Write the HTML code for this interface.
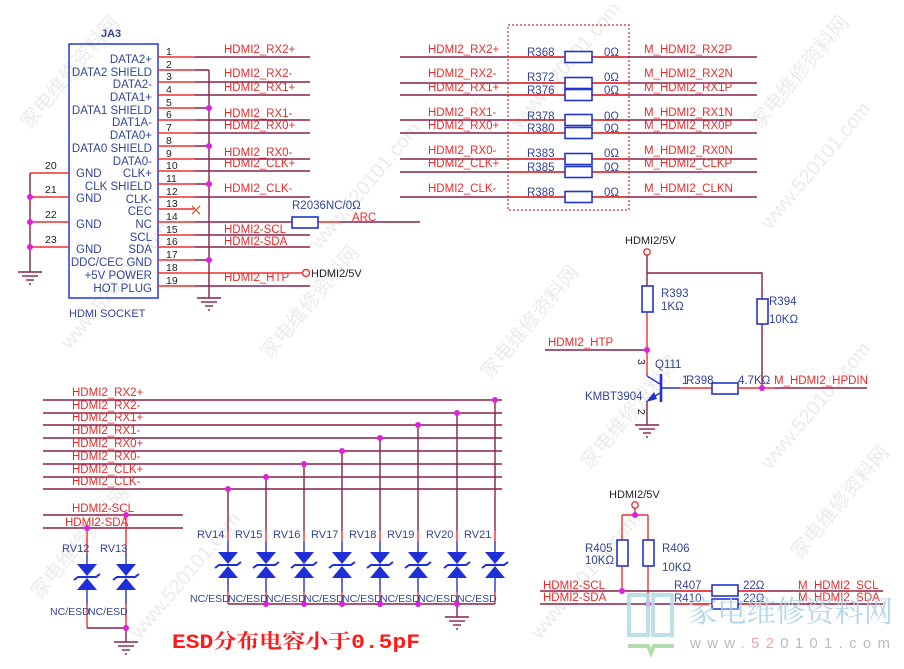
<!DOCTYPE html>
<html><head><meta charset="utf-8"><style>
html,body{margin:0;padding:0;background:#fff;}
svg{display:block;font-family:"Liberation Sans","Noto Sans CJK SC",sans-serif;}
.m{stroke:#8a2048;stroke-width:1.4;fill:none}
.r{stroke:#ee3030;stroke-width:1.4;fill:none}
.b{stroke:#2233cc;stroke-width:1.4;fill:none}
.res{fill:#fff;stroke:#2233cc;stroke-width:1.6}
.nl{fill:#f02828;font-size:11.5px}
.cl{fill:#34449a;font-size:11.5px}
.pn{fill:#222;font-size:10.5px}
.dk{fill:#222;font-size:11px}
.dot{fill:#e020e0}
.wm{fill:#ebebeb;font-size:20px}
</style></head><body>
<svg width="904" height="669" viewBox="0 0 904 669" xmlns="http://www.w3.org/2000/svg">
<defs>
<g id="tvs"><polygon points="-10,0 10,0 0,12" fill="#1f2fd8"/><polygon points="-10,26 10,26 0,14" fill="#1f2fd8"/><polyline points="-13,16 -9,13 9,13 13,10" stroke="#1f2fd8" stroke-width="2" fill="none"/></g>
<g id="gnd"><line x1="-12" y1="0" x2="12" y2="0" stroke="#8a2048" stroke-width="1.4"/><line x1="-8" y1="4" x2="8" y2="4" stroke="#8a2048" stroke-width="1.4"/><line x1="-4" y1="8" x2="4" y2="8" stroke="#8a2048" stroke-width="1.4"/><line x1="-1" y1="12" x2="1" y2="12" stroke="#8a2048" stroke-width="1.4"/></g>
</defs>

<!-- watermarks -->
<g class="wm">
<text transform="translate(30,130) rotate(-50)">家电维修资料网</text>
<text transform="translate(70,350) rotate(-50)">www.520101.com</text>
<text transform="translate(270,360) rotate(-50)">家电维修资料网</text>
<text transform="translate(320,250) rotate(-50)">www.520101.com</text>
<text transform="translate(520,130) rotate(-50)">www.520101.com</text>
<text transform="translate(490,380) rotate(-50)">家电维修资料网</text>
<text transform="translate(760,130) rotate(-50)">家电维修资料网</text>
<text transform="translate(770,230) rotate(-50)">www.520101.com</text>
<text transform="translate(40,600) rotate(-50)">家电维修资料网</text>
<text transform="translate(140,640) rotate(-50)">www.520101.com</text>
<text transform="translate(540,640) rotate(-50)">www.520101.com</text>
<text transform="translate(770,470) rotate(-50)">www.520101.com</text>
<text transform="translate(590,470) rotate(-50)">家电维修资料网</text>
<text transform="translate(800,560) rotate(-50)">家电维修资料网</text>
</g>

<!-- ============ CONNECTOR ============ -->
<text x="101" y="37" class="cl" style="font-weight:bold;font-size:11px">JA3</text>
<rect x="69" y="44" width="89" height="254" fill="none" stroke="#3344dd" stroke-width="1.6"/>
<text x="69" y="317" class="cl" style="font-size:11px">HDMI SOCKET</text>

<g class="cl" text-anchor="end">
<text x="152" y="63">DATA2+</text>
<text x="152" y="76">DATA2 SHIELD</text>
<text x="152" y="88">DATA2-</text>
<text x="152" y="101">DATA1+</text>
<text x="152" y="114">DATA1 SHIELD</text>
<text x="152" y="126">DAT1A-</text>
<text x="152" y="139">DATA0+</text>
<text x="152" y="152">DATA0 SHIELD</text>
<text x="152" y="165">DATA0-</text>
<text x="152" y="177">CLK+</text>
<text x="152" y="190">CLK SHIELD</text>
<text x="152" y="203">CLK-</text>
<text x="152" y="215">CEC</text>
<text x="152" y="228">NC</text>
<text x="152" y="241">SCL</text>
<text x="152" y="253">SDA</text>
<text x="152" y="266">DDC/CEC GND</text>
<text x="152" y="279">+5V POWER</text>
<text x="152" y="292">HOT PLUG</text>
</g>
<g class="cl">
<text x="76" y="177">GND</text>
<text x="76" y="202">GND</text>
<text x="76" y="228">GND</text>
<text x="76" y="253">GND</text>
</g>

<g class="pn">
<text x="166" y="55">1</text><text x="166" y="68">2</text><text x="166" y="80">3</text><text x="166" y="93">4</text>
<text x="166" y="106">5</text><text x="166" y="118">6</text><text x="166" y="131">7</text><text x="166" y="144">8</text>
<text x="166" y="157">9</text><text x="166" y="169">10</text><text x="166" y="182">11</text><text x="166" y="195">12</text>
<text x="166" y="207">13</text><text x="166" y="220">14</text><text x="166" y="233">15</text><text x="166" y="245">16</text>
<text x="166" y="258">17</text><text x="166" y="271">18</text><text x="166" y="284">19</text>
<text x="45" y="169">20</text><text x="45" y="193">21</text><text x="45" y="218">22</text><text x="45" y="243">23</text>
</g>

<!-- pin lines -->
<g>
<path class="r" d="M158 57H195 M158 70H195 M158 82H195 M158 95H195 M158 108H195 M158 120H195 M158 133H195 M158 146H195 M158 159H195 M158 171H195 M158 184H195 M158 197H195 M158 209H194 M158 222H195 M158 235H195 M158 247H195 M158 260H195 M158 273H195 M158 286H195"/>
<path class="m" d="M195 57H310 M195 70H209 M195 82H310 M195 95H310 M195 108H209 M195 120H310 M195 133H310 M195 146H209 M195 159H310 M195 171H310 M195 184H209 M195 197H310 M195 222H292 M195 235H310 M195 247H310 M195 260H209 M195 286H310"/>
<path class="r" d="M195 273H302.5 M318 222H340"/>
<path class="m" d="M340 222H420"/>
<path class="m" d="M209 70V298"/>
<path d="M192 206L200 214 M200 206L192 214" stroke="#d06030" stroke-width="1.3"/>
<circle cx="306" cy="273" r="3.5" fill="none" stroke="#ee3030" stroke-width="1.4"/>
<rect class="res" x="292" y="217" width="26" height="11"/>
<!-- left gnd -->
<path class="r" d="M30 173H69 M30 197H69 M30 222H69 M30 247H69"/>
<path class="m" d="M30 173V272"/>
</g>
<use href="#gnd" x="209" y="298"/>
<use href="#gnd" x="30" y="272"/>
<g class="dot">
<circle cx="209" cy="108" r="3"/><circle cx="209" cy="146" r="3"/><circle cx="209" cy="184" r="3"/><circle cx="209" cy="260" r="3"/>
<circle cx="30" cy="197" r="3"/><circle cx="30" cy="222" r="3"/><circle cx="30" cy="247" r="3"/>
</g>
<g class="nl">
<text x="224" y="53">HDMI2_RX2+</text>
<text x="224" y="77">HDMI2_RX2-</text>
<text x="224" y="91">HDMI2_RX1+</text>
<text x="224" y="117">HDMI2_RX1-</text>
<text x="224" y="129">HDMI2_RX0+</text>
<text x="224" y="156">HDMI2_RX0-</text>
<text x="224" y="167">HDMI2_CLK+</text>
<text x="224" y="192">HDMI2_CLK-</text>
<text x="224" y="233">HDMI2-SCL</text>
<text x="224" y="245">HDMI2-SDA</text>
<text x="224" y="281">HDMI2_HTP</text>
<text x="352" y="221">ARC</text>
</g>
<text x="292" y="209" class="cl">R2036NC/0Ω</text>
<text x="311" y="277" class="dk">HDMI2/5V</text>

<!-- ============ TOP RIGHT RESISTORS ============ -->
<rect x="508" y="25" width="121" height="185" fill="none" stroke="#cc3030" stroke-width="1.2" stroke-dasharray="2,2"/>
<path class="m" d="M400 57H757 M400 83H757 M400 95H757 M400 120H757 M400 133H757 M400 159H757 M400 172H757 M400 197H757"/>
<path class="r" d="M508 57H565 M592 57H627 M508 83H565 M592 83H627 M508 95H565 M592 95H627 M508 120H565 M592 120H627 M508 133H565 M592 133H627 M508 159H565 M592 159H627 M508 172H565 M592 172H627 M508 197H565 M592 197H627"/>
<g>
<rect class="res" x="565" y="51.5" width="27" height="11"/>
<rect class="res" x="565" y="77.5" width="27" height="11"/>
<rect class="res" x="565" y="89.5" width="27" height="11"/>
<rect class="res" x="565" y="114.5" width="27" height="11"/>
<rect class="res" x="565" y="127.5" width="27" height="11"/>
<rect class="res" x="565" y="153.5" width="27" height="11"/>
<rect class="res" x="565" y="166.5" width="27" height="11"/>
<rect class="res" x="565" y="191.5" width="27" height="11"/>
</g>
<g class="nl">
<text x="428" y="53">HDMI2_RX2+</text>
<text x="428" y="77">HDMI2_RX2-</text>
<text x="428" y="91">HDMI2_RX1+</text>
<text x="428" y="116">HDMI2_RX1-</text>
<text x="428" y="129">HDMI2_RX0+</text>
<text x="428" y="154">HDMI2_RX0-</text>
<text x="428" y="167">HDMI2_CLK+</text>
<text x="428" y="192">HDMI2_CLK-</text>
<text x="644" y="53">M_HDMI2_RX2P</text>
<text x="644" y="77">M_HDMI2_RX2N</text>
<text x="644" y="91">M_HDMI2_RX1P</text>
<text x="644" y="116">M_HDMI2_RX1N</text>
<text x="644" y="129">M_HDMI2_RX0P</text>
<text x="644" y="154">M_HDMI2_RX0N</text>
<text x="644" y="167">M_HDMI2_CLKP</text>
<text x="644" y="192">M_HDMI2_CLKN</text>
</g>
<g class="cl">
<text x="527" y="56">R368</text><text x="604" y="56">0Ω</text>
<text x="527" y="81">R372</text><text x="604" y="81">0Ω</text>
<text x="527" y="94">R376</text><text x="604" y="94">0Ω</text>
<text x="527" y="120">R378</text><text x="604" y="120">0Ω</text>
<text x="527" y="132">R380</text><text x="604" y="132">0Ω</text>
<text x="527" y="157">R383</text><text x="604" y="157">0Ω</text>
<text x="527" y="171">R385</text><text x="604" y="171">0Ω</text>
<text x="527" y="196">R388</text><text x="604" y="196">0Ω</text>
</g>

<!-- ============ TRANSISTOR ============ -->
<text x="625" y="244" class="dk">HDMI2/5V</text>
<circle cx="647" cy="252" r="3.2" fill="none" stroke="#ee3030" stroke-width="1.4"/>
<path class="m" d="M647 255.5V286 M647 273H762V299 M762 324V388 M545 350H647"/>
<path class="r" d="M647 312V376"/>
<rect class="res" x="642" y="286" width="11" height="26"/>
<rect class="res" x="757" y="299" width="11" height="25"/>
<path d="M647 376L660 384" stroke="#2233cc" stroke-width="1.4"/>
<line x1="661" y1="374" x2="661" y2="402" stroke="#2233cc" stroke-width="2.6"/>
<path d="M660 393L649 400" stroke="#2233cc" stroke-width="1.4"/>
<polygon points="646,402 654,392 657,399" fill="#2233cc"/>
<path class="m" d="M647 401V425"/>
<use href="#gnd" x="647" y="425"/>
<path class="b" d="M661 388H680"/>
<path class="r" d="M680 388H712"/>
<rect class="res" x="712" y="383" width="26" height="11"/>
<path class="r" d="M738 388H775"/>
<path class="m" d="M775 388H867"/>
<circle class="dot" cx="647" cy="350" r="3"/>
<circle class="dot" cx="762" cy="388" r="3"/>
<g class="cl">
<text x="661" y="297">R393</text><text x="661" y="310">1KΩ</text>
<text x="769" y="305">R394</text><text x="769" y="323">10KΩ</text>
<text x="655" y="368">Q111</text>
<text x="585" y="400">KMBT3904</text>
<text x="682" y="384">1</text><text x="686" y="384">R398</text>
<text x="738" y="384">4.7KΩ</text>
</g>
<text class="pn" transform="translate(638,359) rotate(90)">3</text>
<text class="pn" transform="translate(638,409) rotate(90)">2</text>
<text x="548" y="346" class="nl">HDMI2_HTP</text>
<text x="774" y="384" class="nl">M_HDMI2_HPDIN</text>

<!-- ============ ESD ============ -->
<path class="m" d="M43 400H502 M43 413H502 M43 425H502 M43 438H502 M43 451H502 M43 464H502 M43 477H502 M43 489H502 M43 515H183 M43 528H183"/>
<g class="nl">
<text x="72" y="396">HDMI2_RX2+</text>
<text x="72" y="409">HDMI2_RX2-</text>
<text x="72" y="421">HDMI2_RX1+</text>
<text x="72" y="434">HDMI2_RX1-</text>
<text x="72" y="447">HDMI2_RX0+</text>
<text x="72" y="460">HDMI2_RX0-</text>
<text x="72" y="473">HDMI2_CLK+</text>
<text x="72" y="485">HDMI2_CLK-</text>
<text x="72" y="512">HDMI2-SCL</text>
<text x="65" y="526">HDMI2-SDA</text>
</g>
<!-- RV14..RV21 verticals -->
<path class="m" d="M228 489V531 M266 477V531 M304 464V531 M342 451V531 M380 438V531 M418 425V531 M457 413V531 M495 400V531"/>
<path class="r" d="M228 531V541 M266 531V541 M304 531V541 M342 531V541 M380 531V541 M418 531V541 M457 531V541 M495 531V541"/>
<path class="b" d="M228 541V552 M266 541V552 M304 541V552 M342 541V552 M380 541V552 M418 541V552 M457 541V552 M495 541V552 M228 578V592 M266 578V592 M304 578V592 M342 578V592 M380 578V592 M418 578V592 M457 578V592 M495 578V592"/>
<path class="r" d="M228 592V604 M266 592V604 M304 592V604 M342 592V604 M380 592V604 M418 592V604 M457 592V604 M495 592V604"/>
<path class="m" d="M228 604H495 M457 604V617"/>
<use href="#tvs" x="228" y="552"/><use href="#tvs" x="266" y="552"/><use href="#tvs" x="304" y="552"/><use href="#tvs" x="342" y="552"/>
<use href="#tvs" x="380" y="552"/><use href="#tvs" x="418" y="552"/><use href="#tvs" x="457" y="552"/><use href="#tvs" x="495" y="552"/>
<use href="#gnd" x="457" y="617"/>
<g class="dot">
<circle cx="228" cy="489" r="3"/><circle cx="266" cy="477" r="3"/><circle cx="304" cy="464" r="3"/><circle cx="342" cy="451" r="3"/>
<circle cx="380" cy="438" r="3"/><circle cx="418" cy="425" r="3"/><circle cx="457" cy="413" r="3"/><circle cx="495" cy="400" r="3"/>
<circle cx="266" cy="604" r="3"/><circle cx="304" cy="604" r="3"/><circle cx="342" cy="604" r="3"/><circle cx="380" cy="604" r="3"/>
<circle cx="418" cy="604" r="3"/><circle cx="457" cy="604" r="3"/>
</g>
<g class="cl" style="font-size:11px">
<text x="197" y="538">RV14</text><text x="235" y="538">RV15</text><text x="273" y="538">RV16</text><text x="311" y="538">RV17</text>
<text x="349" y="538">RV18</text><text x="387" y="538">RV19</text><text x="426" y="538">RV20</text><text x="464" y="538">RV21</text>
</g>
<g class="cl" style="font-size:10.5px">
<text x="190" y="602">NC/ESD</text><text x="228" y="602">NC/ESD</text><text x="266" y="602">NC/ESD</text><text x="304" y="602">NC/ESD</text>
<text x="342" y="602">NC/ESD</text><text x="380" y="602">NC/ESD</text><text x="418" y="602">NC/ESD</text><text x="457" y="602">NC/ESD</text>
</g>
<!-- RV12 RV13 -->
<path class="r" d="M87 528V553 M126 515V553 M87 604V628 M126 604V628"/>
<path class="b" d="M87 553V564 M126 553V564 M87 590V604 M126 590V604"/>
<path class="m" d="M87 628H126 M126 628V642"/>
<use href="#tvs" x="87" y="564"/><use href="#tvs" x="126" y="564"/>
<use href="#gnd" x="126" y="642"/>
<circle class="dot" cx="87" cy="528" r="3"/><circle class="dot" cx="126" cy="515" r="3"/><circle class="dot" cx="126" cy="628" r="3"/>
<g class="cl" style="font-size:11px"><text x="62" y="552">RV12</text><text x="100" y="552">RV13</text></g>
<g class="cl" style="font-size:10.5px"><text x="50" y="615">NC/ESD</text><text x="88" y="615">NC/ESD</text></g>
<text x="172" y="648" textLength="248" lengthAdjust="spacingAndGlyphs" style="font-family:'Liberation Mono','Noto Serif CJK SC',monospace;font-weight:bold;font-size:20px;fill:#ff1a1a">ESD分布电容小于0.5pF</text>

<!-- ============ I2C ============ -->
<text x="609" y="498" class="dk">HDMI2/5V</text>
<circle cx="635" cy="505" r="3.2" fill="none" stroke="#ee3030" stroke-width="1.4"/>
<path class="r" d="M635 508V515 M622 515H648 M622 515V540 M648 515V540 M622 566V591 M648 566V604"/>
<rect class="res" x="617" y="540" width="11" height="26"/>
<rect class="res" x="643" y="540" width="11" height="26"/>
<path class="m" d="M540 591H883 M540 604H883"/>
<path class="r" d="M680 591H712 M738 591H770 M680 604H712 M738 604H770"/>
<rect class="res" x="712" y="585" width="26" height="11"/>
<rect class="res" x="712" y="599" width="26" height="10"/>
<circle class="dot" cx="635" cy="515" r="3"/><circle class="dot" cx="622" cy="591" r="3"/><circle class="dot" cx="648" cy="604" r="3"/>
<g class="cl">
<text x="585" y="552">R405</text><text x="585" y="564">10KΩ</text>
<text x="662" y="552">R406</text><text x="662" y="571">10KΩ</text>
<text x="674" y="589">R407</text><text x="674" y="602">R410</text>
<text x="743" y="589">22Ω</text><text x="743" y="602">22Ω</text>
</g>
<g class="nl">
<text x="543" y="589">HDMI2-SCL</text><text x="543" y="601">HDMI2-SDA</text>
<text x="798" y="589">M_HDMI2_SCL</text><text x="798" y="601">M_HDMI2_SDA</text>
</g>

<!-- logo watermark -->
<g opacity="0.85">
<rect x="629" y="595" width="19" height="40" fill="none" stroke="#b3dbe8" stroke-width="4"/>
<rect x="653" y="595" width="19" height="40" fill="none" stroke="#b3dbe8" stroke-width="4"/>
<polyline points="628,646 648,646 651,653 654,646 674,646" fill="none" stroke="#a8d8a0" stroke-width="4"/>
<text x="688" y="622" textLength="205" lengthAdjust="spacingAndGlyphs" style="font-family:'Noto Serif CJK SC',serif;font-size:30px;fill:#a9cfe6">家电维修资料网</text>
<text x="690" y="648" textLength="200" lengthAdjust="spacing" style="font-size:15px;fill:#b0b0b0">www.<tspan fill="#e89a9a">52</tspan>0101.com</text>
</g>
</svg>
</body></html>
